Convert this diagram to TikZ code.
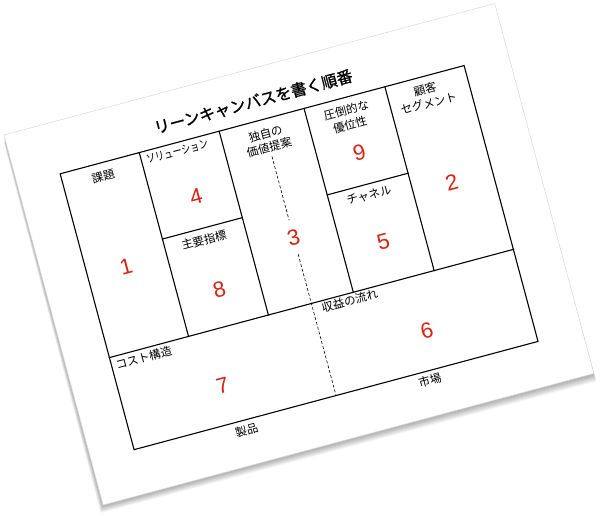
\documentclass[tikz,border=0pt]{standalone}
\usepackage{fontspec}
\setmainfont{Liberation Sans}
\newfontfamily\jpfont{Noto Sans CJK JP}
\newfontfamily\jptitlefont[FakeBold=1.2]{Noto Sans CJK JP}
\definecolor{numred}{RGB}{215,35,20}
\begin{document}
\begin{tikzpicture}[x=1pt,y=-1pt,
  frame/.style={line width=1.1pt, line cap=rect},
  lbl/.style={font=\jpfont\fontsize{11.5}{14.5}\selectfont, inner sep=0pt, align=center},
  num/.style={font=\fontsize{22}{22}\selectfont, text=numred, inner sep=0pt},
  ttl/.style={font=\jptitlefont\fontsize{15.8}{18}\selectfont, inner sep=0pt},
  dash line/.style={line width=0.6pt, dash pattern=on 3pt off 2pt}]
\useasboundingbox (0,0) rectangle (600,515);
\fill[white] (0,0) rectangle (600,515);
% shadow of the page
\foreach \d in {2,...,8}{
  \fill[black, opacity=0.045] (4,135+\d) -- (494.7,3.5+\d) -- (593.8+0.3*\d,373.4+\d) -- (103.1-0.3*\d,504.9+\d) -- cycle;
}
\begin{scope}[shift={(4,135)}, rotate=15, transform shape]
  % page
  \filldraw[fill=white, draw=black!15, line width=0.5pt] (0,0) rectangle (508,383);
  % canvas frame
  \draw[frame] (44.2,52) rectangle (462.4,337.6);
  \draw[frame] (44.2,242.3) -- (462.4,242.3);
  \foreach \u in {126.1,208.8,296.7,380.4}{\draw[frame] (\u,52) -- (\u,242.3);}
  \draw[frame] (126.1,141.5) -- (208.8,141.5);
  \draw[frame] (296.7,141.5) -- (380.4,141.5);
  % title
  \node[ttl] (title) at (249.4,32.3) {リーンキャンバスを書く順番};
  % labels
  \node[lbl] (kadai) at (85,66) {課題};
  \node[lbl] (sol) at (163,61) {\scalebox{0.79}[1]{ソリューション}};
  \node[lbl] (vp) at (253,73.5) {独自の\\価値提案};
  \node[lbl] (adv) at (337,72) {圧倒的な\\優位性};
  \node[lbl] (seg) at (418.5,72) {顧客\\セグメント};
  \node[lbl] (kpi) at (166,153) {主要指標};
  \node[lbl] (ch) at (337,152.5) {チャネル};
  \node[lbl, anchor=west] (cost) at (48.3,251.5) {コスト構造};
  \node[lbl, anchor=west] (rev) at (262,250) {収益の流れ};
  \node[lbl] (prod) at (158,348) {製品};
  \node[lbl] (mkt) at (348,347) {市場};
  % numbers
  \node[num] (n1) at (83.8,158.8) {1};
  \node[num] (n2) at (420.1,162) {2};
  \node[num, inner ysep=9.6pt] (n3) at (253.3,173.7) {3};
  \node[num] (n4) at (169.5,109.3) {4};
  \node[num] (n5) at (338.8,201.3) {5};
  \node[num] (n6) at (357.7,298.4) {6};
  \node[num] (n7) at (146.2,299) {7};
  \node[num] (n8) at (168.1,204.7) {8};
  \node[num] (n9) at (338.6,109.1) {9};
  % dashed divider
  \coordinate (dtop) at (253.3,90);
  \coordinate (dbot) at (253.3,337.6);
  \draw[dash line] (dtop) -- (n3.north);
  \draw[dash line] (n3.south) -- (dbot);
\end{scope}
\end{tikzpicture}
\end{document}
